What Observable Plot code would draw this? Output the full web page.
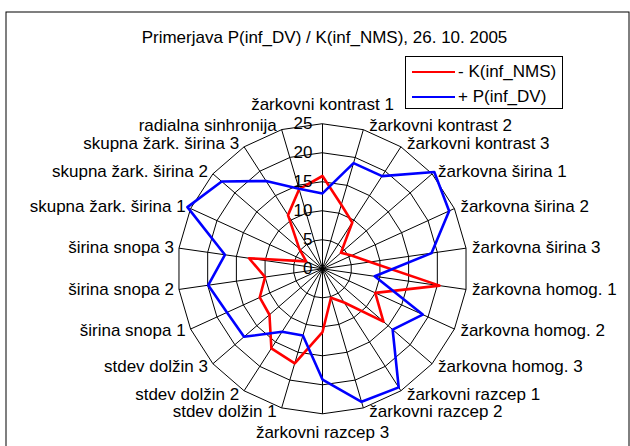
<!DOCTYPE html>
<html>
<head>
<meta charset="utf-8">
<script src="https://cdn.jsdelivr.net/npm/d3@7"></script>
<script src="https://cdn.jsdelivr.net/npm/@observablehq/plot@0.6"></script>
<style>
  html, body { margin: 0; padding: 0; background: #fff; }
  #wrap { position: relative; width: 630px; height: 446px; overflow: hidden; font-family: "Liberation Sans", Arial, sans-serif; }
  #wrap svg { position: absolute; left: 0; top: 0; }
  .legend { position: absolute; left: 405px; top: 56px; width: 158px; height: 53px; border: 1px solid #000; box-sizing: border-box; background: #fff; }
  .legend .sw { position: absolute; left: 6px; width: 43px; height: 0; border-top-width: 2.5px; border-top-style: solid; }
  .legend .lb { position: absolute; left: 52px; font-size: 17px; line-height: 17px; color: #000; white-space: nowrap; }
</style>
</head>
<body>
<div id="wrap"></div>
<script>
const title = "Primerjava P(inf_DV) / K(inf_NMS), 26. 10. 2005";
const categories = [
  "žarkovni kontrast 1", "žarkovni kontrast 2", "žarkovni kontrast 3",
  "žarkovna širina 1", "žarkovna širina 2", "žarkovna širina 3",
  "žarkovna homog. 1", "žarkovna homog. 2", "žarkovna homog. 3",
  "žarkovni razcep 1", "žarkovni razcep 2", "žarkovni razcep 3",
  "stdev dolžin 1", "stdev dolžin 2", "stdev dolžin 3",
  "širina snopa 1", "širina snopa 2", "širina snopa 3",
  "skupna žark. širina 1", "skupna žark. širina 2", "skupna žark. širina 3",
  "radialna sinhronija"
];
const seriesNames = ["- K(inf_NMS)", "+ P(inf_DV)"];
const seriesColors = ["#ff0000", "#0000ff"];
const valuesK = [16.0, 11.5, 9.5, 4.2, 5.5, 8.3, 20.4, 10.0, 13.9, 6.9, 5.2, 10.9, 17.0, 16.3, 12.1, 11.9, 10.0, 12.8, 3.1, 5.3, 11.0, 14.3];
const valuesP = [13.0, 19.0, 19.0, 25.5, 24.0, 19.0, 9.1, 19.0, 16.0, 24.3, 23.9, 19.1, 12.0, 12.9, 17.9, 18.1, 19.9, 17.0, 25.6, 23.0, 18.0, 14.4];
const ticks = [0, 5, 10, 15, 20, 25];

const W = 630, H = 446, CX = 322, CY = 268.3, U = 5.8; // px per unit
const n = categories.length;
const maxV = d3.max(ticks);
const ang = i => 2 * Math.PI * i / n;
const px = (v, i) => v * Math.sin(ang(i));
const py = (v, i) => v * Math.cos(ang(i));

const rows = [];
[valuesK, valuesP].forEach((vals, s) => vals.forEach((v, i) => rows.push({series: seriesNames[s], i, v})));
const ringRows = [];
ticks.slice(1).forEach(t => categories.forEach((c, i) => ringRows.push({t, i})));
const labels = categories.map((c, i) => ({c, i}));
const right = labels.filter(d => d.i > 0 && d.i < n / 2);
const left = labels.filter(d => d.i > n / 2);
const top0 = labels.filter(d => d.i === 0);
const bottom = labels.filter(d => d.i === n / 2);
const labY = d => py(maxV + 0.7, d.i);

const font = {fontSize: 17, fill: "#000"};

const chart = Plot.plot({
  width: W, height: H, margin: 0,
  x: {domain: [-CX / U, (W - CX) / U], axis: null},
  y: {domain: [-(H - CY) / U, CY / U], axis: null},
  color: {domain: seriesNames, range: seriesColors},
  style: {fontFamily: '"Liberation Sans", Arial, sans-serif', color: "#000", background: "#fff", overflow: "visible"},
  marks: [
    Plot.frame({insetLeft: 5.5, insetTop: 11.5, insetRight: 1.5, insetBottom: -20, stroke: "#000"}),
    Plot.line(ringRows, {x: d => px(d.t, d.i), y: d => py(d.t, d.i), z: "t", curve: "linear-closed", stroke: "#000", strokeWidth: 1}),
    Plot.link(labels, {x1: 0, y1: 0, x2: d => px(maxV, d.i), y2: d => py(maxV, d.i), stroke: "#000", strokeWidth: 1}),
    Plot.line(rows, {x: d => px(d.v, d.i), y: d => py(d.v, d.i), z: "series", stroke: "series", curve: "linear-closed", strokeWidth: 2.6}),
    Plot.text(ticks, {x: 0, y: d => d, text: d => String(d), textAnchor: "end", dx: -10, ...font}),
    Plot.text(right, {x: d => px(maxV, d.i), y: labY, text: "c", textAnchor: "start", dx: 6, ...font}),
    Plot.text(left, {x: d => px(maxV, d.i), y: labY, text: "c", textAnchor: "end", dx: -5, ...font}),
    Plot.text(top0, {x: d => px(maxV, d.i), y: d => py(maxV, d.i), text: "c", dy: -19, ...font}),
    Plot.text(bottom, {x: d => px(maxV, d.i), y: d => py(maxV, d.i), text: "c", dy: 19, ...font}),
    Plot.text([title], {frameAnchor: "top-left", lineAnchor: "middle", textAnchor: "middle", dx: 324, dy: 37, text: d => d, ...font})
  ]
});

const wrap = document.getElementById("wrap");
wrap.appendChild(chart);
const lg = document.createElement("div");
lg.className = "legend";
seriesNames.forEach((name, s) => {
  const sw = document.createElement("div");
  sw.className = "sw";
  sw.style.top = (s === 0 ? 13.5 : 38.5) + "px";
  sw.style.borderTopColor = seriesColors[s];
  const lb = document.createElement("div");
  lb.className = "lb";
  lb.style.top = (s === 0 ? 6 : 31) + "px";
  lb.textContent = name;
  lg.appendChild(sw);
  lg.appendChild(lb);
});
wrap.appendChild(lg);
</script>
</body>
</html>
